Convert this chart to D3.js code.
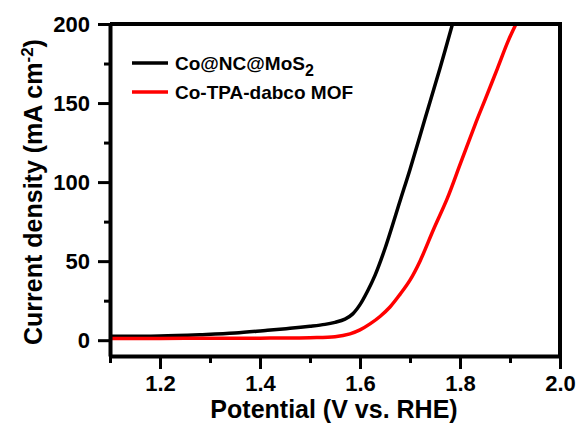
<!DOCTYPE html>
<html>
<head>
<meta charset="utf-8">
<script src="https://cdn.jsdelivr.net/npm/d3@7"></script>
<style>
  body { margin: 0; background: #fff; }
  text { font-family: "Liberation Sans", Arial, sans-serif; font-weight: bold; fill: #000; }
</style>
</head>
<body>
<script>
// LSV data
var potBlack = [1.10, 1.20, 1.28, 1.35, 1.415, 1.46, 1.50, 1.53, 1.55, 1.57, 1.585, 1.60, 1.615, 1.63, 1.65, 1.681, 1.70, 1.73, 1.76, 1.785];
var curBlack = [2.5, 2.7, 3.5, 4.5, 6.3, 7.5, 8.8, 10.0, 11.3, 13.3, 16.5, 22.5, 31, 41, 58, 89, 108, 140, 172, 200];

var potRed = [1.10, 1.20, 1.30, 1.40, 1.50, 1.55, 1.58, 1.60, 1.62, 1.64, 1.66, 1.68, 1.70, 1.72, 1.747, 1.775, 1.80, 1.831, 1.85, 1.875, 1.896, 1.912];
var curRed = [1.0, 1.1, 1.2, 1.3, 1.6, 2.2, 4.0, 6.5, 10.3, 15, 21, 29, 38, 50, 70, 90, 111, 137, 152, 172, 189, 200];

var seriesNames = ["Co@NC@MoS", "Co-TPA-dabco MOF"];
var seriesColors = ["#000000", "#ff0000"];

var xMajor = [1.2, 1.4, 1.6, 1.8, 2.0];
var xMinor = [1.1, 1.3, 1.5, 1.7, 1.9];
var yMajor = [0, 50, 100, 150, 200];
var yMinor = [25, 75, 125, 175];

var W = 583, H = 425;
var margin = {top: 24, right: 23, bottom: 69, left: 110};
var width = W - margin.left - margin.right,
    height = H - margin.top - margin.bottom;

var svg = d3.select("body").append("svg").attr("width", W).attr("height", H);
var g = svg.append("g").attr("transform", "translate(" + margin.left + "," + margin.top + ")");

var x = d3.scaleLinear().domain([1.1, 2.0]).range([0, width]);
var y = d3.scaleLinear().domain([-10, 200]).range([height, 0]);

var line = d3.line()
    .x(function(d) { return x(d[0]); })
    .y(function(d) { return y(d[1]); })
    .curve(d3.curveCatmullRom.alpha(0.5));

svg.append("defs").append("clipPath").attr("id", "clip")
  .append("rect").attr("width", width).attr("height", height);

var series = [
  d3.zip(potBlack, curBlack),
  d3.zip(potRed, curRed)
];

g.append("g").attr("clip-path", "url(#clip)")
  .selectAll("path")
  .data(series)
  .enter().append("path")
    .attr("d", line)
    .attr("fill", "none")
    .attr("stroke", function(d, i) { return seriesColors[i]; })
    .attr("stroke-width", 3.5)
    .attr("stroke-linejoin", "round");

// axes
function styleAxis(sel, sw) {
  sel.select(".domain").attr("stroke-width", 4);
  sel.selectAll(".tick line").attr("stroke-width", sw);
  sel.selectAll(".tick text").style("font-size", "22px").style("font-family", "Liberation Sans, Arial, sans-serif").style("font-weight", "bold");
}

g.append("g")
  .attr("transform", "translate(0," + height + ")")
  .call(d3.axisBottom(x).tickValues(xMinor).tickSize(7).tickSizeOuter(0).tickFormat(""))
  .call(styleAxis, 3);

g.append("g")
  .attr("transform", "translate(0," + height + ")")
  .call(d3.axisBottom(x).tickValues(xMajor).tickSize(13).tickSizeOuter(0).tickPadding(6).tickFormat(d3.format(".1f")))
  .call(styleAxis, 3)
  .call(function(s) { s.select(".domain").remove(); });

g.append("g")
  .call(d3.axisLeft(y).tickValues(yMinor).tickSize(6).tickSizeOuter(0).tickFormat(""))
  .call(styleAxis, 3);

g.append("g")
  .call(d3.axisLeft(y).tickValues(yMajor).tickSize(12).tickSizeOuter(0).tickPadding(8))
  .call(styleAxis, 3)
  .call(function(s) { s.select(".domain").remove(); });

// top and right frame
g.append("path")
  .attr("d", "M0,0H" + width + "V" + height)
  .attr("fill", "none").attr("stroke", "#000").attr("stroke-width", 4);

// axis titles
svg.append("text")
  .attr("x", margin.left + width / 2 - 1)
  .attr("y", 418)
  .attr("text-anchor", "middle")
  .style("font-size", "25px")
  .text("Potential (V vs. RHE)");

var yl = svg.append("text")
  .attr("transform", "translate(42," + 192 + ") rotate(-90)")
  .attr("text-anchor", "middle")
  .style("font-size", "25px");
yl.append("tspan").text("Current density (mA cm");
yl.append("tspan").attr("dy", -9).style("font-size", "17px").text("-2");
yl.append("tspan").attr("dy", 9).text(")");

// legend
var leg = svg.append("g").attr("transform", "translate(132,63)");
var item = leg.selectAll("g").data(seriesNames).enter().append("g")
  .attr("transform", function(d, i) { return "translate(0," + (i * 29) + ")"; });
item.append("line")
  .attr("x1", 0).attr("x2", 36)
  .attr("stroke", function(d, i) { return seriesColors[i]; })
  .attr("stroke-width", 3.5);
var lt = item.append("text")
  .attr("x", 43).attr("y", 7)
  .style("font-size", "19px");
lt.append("tspan").text(function(d) { return d; });
lt.filter(function(d, i) { return i === 0; })
  .append("tspan").attr("dy", 6).style("font-size", "16px").text("2");
</script>
</body>
</html>
